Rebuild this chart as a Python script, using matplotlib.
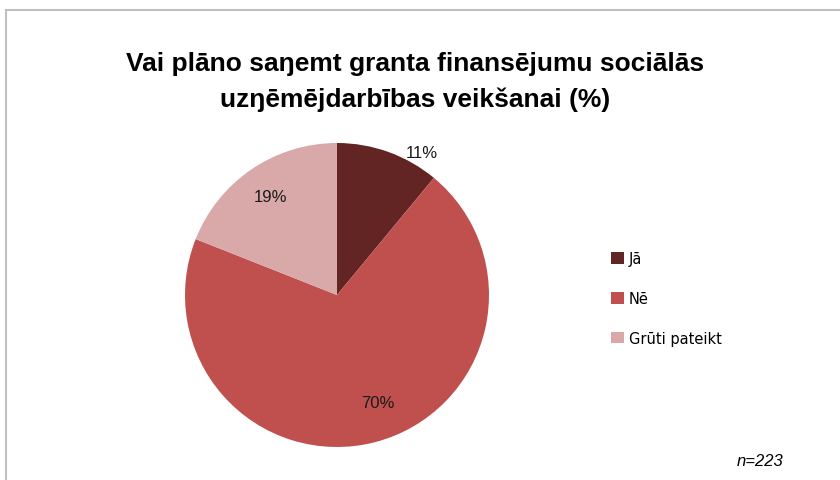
import numpy as np
import matplotlib
matplotlib.use("Agg")
import matplotlib.pyplot as plt
from matplotlib.patches import Rectangle

categories = ["Jā", "Nē", "Grūti pateikt"]
values = [11, 70, 19]
colors = ["#632523", "#C0504D", "#D9A9A9"]
label_radius = [1.09, 0.76, 0.78]
label_angle_shift = [11, -6.5, 0]
title = "Vai plāno saŋemt granta finansējumu sociālās\nuzŋēmējdarbības veikšanai (%)"
note = "n=223"

fig = plt.figure(figsize=(8.4, 4.81), dpi=100)
fig.patch.set_facecolor("white")

# outer frame
fig.patches.append(Rectangle((6/840, -0.05), 1.0, (481-11)/481 + 0.05, transform=fig.transFigure,
                             fill=False, edgecolor="#BFBFBF", linewidth=1.5))

cx, cy, r = 337, 481-296, 152
ax = fig.add_axes([(cx-r)/840, (cy-r)/481, 2*r/840, 2*r/481])
wedges, texts = ax.pie(values, colors=colors, startangle=90, counterclock=False,
                       radius=1.0, wedgeprops=dict(linewidth=0))
ax.set_xlim(-1, 1); ax.set_ylim(-1, 1)
ax.set_aspect("equal")

total = sum(values)
cum = 0
for v, rr, sh in zip(values, label_radius, label_angle_shift):
    mid = (cum + v/2) / total * 360
    ang = np.deg2rad(90 - mid - sh)
    ax.text(rr*np.cos(ang), rr*np.sin(ang), f"{v}%", ha="center", va="center",
            fontsize=12, color="#1a1a1a", family="Liberation Sans")
    cum += v

fig.text(415/840, 1-82/481, title, ha="center", va="center", fontsize=19,
         fontweight="bold", family=["Liberation Sans Narrow", "Liberation Sans"],
         linespacing=1.55)

# legend
handles = [Rectangle((0, 0), 1, 1, facecolor=c, edgecolor="none") for c in colors]
fig.legend(handles, categories, loc="upper left", bbox_to_anchor=(598/840, 1-239/481),
           frameon=False, handlelength=0.85, handleheight=0.85,
           handletextpad=0.35, labelspacing=1.7, prop=dict(family="DejaVu Sans", size=10.5))

fig.text(783/840, 1-462/481, note, ha="right", va="center", fontsize=12,
         style="italic", family="Liberation Sans")

fig.savefig("out.png", dpi=100)
